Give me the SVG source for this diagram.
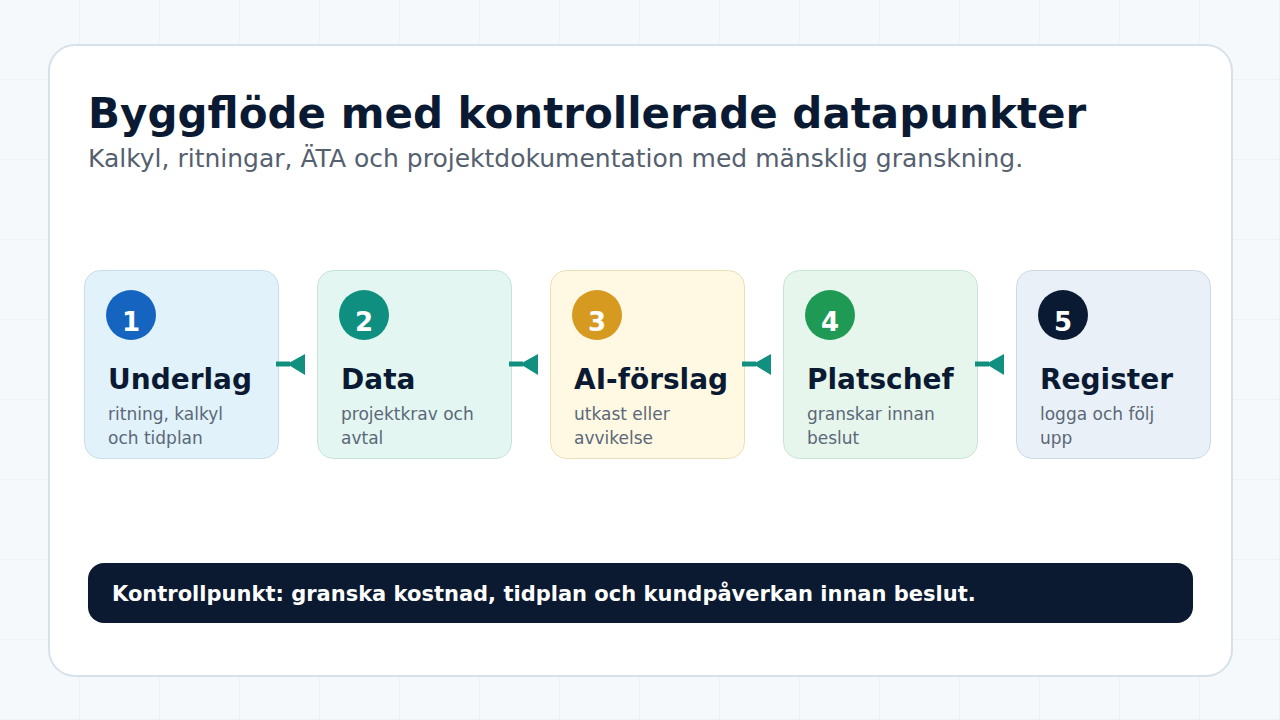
<svg xmlns="http://www.w3.org/2000/svg" width="1280" height="720" viewBox="0 0 1280 720">
<defs>
<pattern id="grid" width="80" height="80" patternUnits="userSpaceOnUse">
<rect width="80" height="80" fill="#f6f9fc"/>
<path d="M80 0V80M0 80H80" fill="none" stroke="#e5ecf3" stroke-width="1"/>
</pattern>
</defs>
<style>
text{font-family:"DejaVu Sans","Noto Sans",sans-serif}
.title{font-size:42px;font-weight:bold;fill:#0b1a33}
.sub{font-size:25px;fill:#55606f}
.box{stroke-width:1}
.num{font-size:26px;font-weight:bold;fill:#ffffff;text-anchor:middle}
.head{font-size:28px;font-weight:bold;fill:#0b1a33}
.desc{font-size:17px;fill:#5b6878}
.arr{fill:#12907f}
.foot{font-size:21px;font-weight:bold;fill:#ffffff}
</style>
<rect width="1280" height="720" fill="url(#grid)"/>
<rect x="49" y="45" width="1183" height="631" rx="26" fill="#ffffff" stroke="#d6e1ea" stroke-width="2"/>
<text class="title" x="88" y="128">Byggflöde med kontrollerade datapunkter</text>
<text class="sub" x="88" y="167">Kalkyl, ritningar, ÄTA och projektdokumentation med mänsklig granskning.</text>
<g id="node1">
<rect class="box" x="84.5" y="270.5" width="194" height="188" rx="16" fill="#e1f2fb" stroke="#c8dde9"/>
<circle cx="131" cy="315" r="25" fill="#1565c0"/>
<text class="num" x="131" y="331">1</text>
<text class="head" x="108" y="389">Underlag</text>
<text class="desc" x="108" y="420">ritning, kalkyl</text>
<text class="desc" x="108" y="444">och tidplan</text>
</g>
<g id="node2">
<rect class="box" x="317.5" y="270.5" width="194" height="188" rx="16" fill="#e3f6f1" stroke="#c5e3da"/>
<circle cx="364" cy="315" r="25" fill="#0f8f80"/>
<text class="num" x="364" y="331">2</text>
<text class="head" x="341" y="389">Data</text>
<text class="desc" x="341" y="420">projektkrav och</text>
<text class="desc" x="341" y="444">avtal</text>
</g>
<g id="node3">
<rect class="box" x="550.5" y="270.5" width="194" height="188" rx="16" fill="#fff8e2" stroke="#ebdfb8"/>
<circle cx="597" cy="315" r="25" fill="#d69a20"/>
<text class="num" x="597" y="331">3</text>
<text class="head" x="574" y="389">AI-förslag</text>
<text class="desc" x="574" y="420">utkast eller</text>
<text class="desc" x="574" y="444">avvikelse</text>
</g>
<g id="node4">
<rect class="box" x="783.5" y="270.5" width="194" height="188" rx="16" fill="#e6f6ec" stroke="#c8e4d2"/>
<circle cx="830" cy="315" r="25" fill="#1f9a55"/>
<text class="num" x="830" y="331">4</text>
<text class="head" x="807" y="389">Platschef</text>
<text class="desc" x="807" y="420">granskar innan</text>
<text class="desc" x="807" y="444">beslut</text>
</g>
<g id="node5">
<rect class="box" x="1016.5" y="270.5" width="194" height="188" rx="16" fill="#e9f0f7" stroke="#cdd8e4"/>
<circle cx="1063" cy="315" r="25" fill="#0b1a33"/>
<text class="num" x="1063" y="331">5</text>
<text class="head" x="1040" y="389">Register</text>
<text class="desc" x="1040" y="420">logga och följ</text>
<text class="desc" x="1040" y="444">upp</text>
</g>
<g id="connectors">
<g class="arr"><rect x="276" y="361.5" width="14" height="5"/><polygon points="287,364 305,354 305,375"/></g>
<g class="arr"><rect x="509" y="361.5" width="14" height="5"/><polygon points="520,364 538,354 538,375"/></g>
<g class="arr"><rect x="742" y="361.5" width="14" height="5"/><polygon points="753,364 771,354 771,375"/></g>
<g class="arr"><rect x="975" y="361.5" width="14" height="5"/><polygon points="986,364 1004,354 1004,375"/></g>
</g>
<g id="footer">
<rect x="88" y="563" width="1105" height="60" rx="16" fill="#0b1a30"/>
<text class="foot" x="112" y="601">Kontrollpunkt: granska kostnad, tidplan och kundpåverkan innan beslut.</text>
</g>
</svg>
